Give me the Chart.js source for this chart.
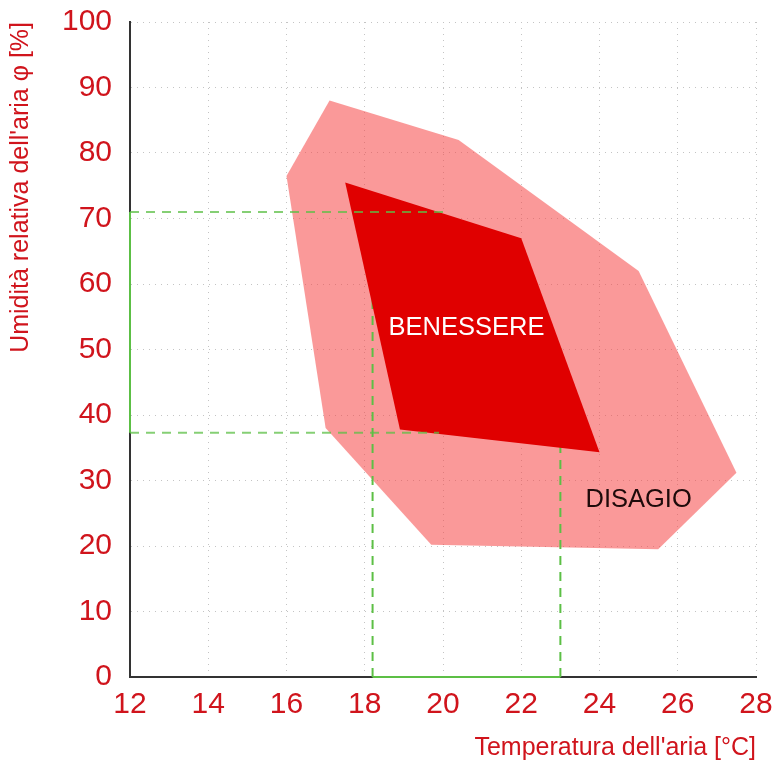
<!DOCTYPE html>
<html lang="it">
<head>
<meta charset="UTF-8">
<title>Benessere termoigrometrico</title>
<script src="https://cdn.jsdelivr.net/npm/chart.js"></script>
<style>
  html, body { margin: 0; padding: 0; background: #fff; }
  #wrap { width: 778px; height: 763px; }
</style>
</head>
<body>
<div id="wrap"><canvas id="chart"></canvas></div>
<script>
// temperature [°C] on x, relative humidity [%] on y
const outerTemp = [17.1, 20.4, 25.0, 27.5, 25.5, 19.7, 17.0, 16.0];
const outerHum  = [88.0, 82.0, 62.0, 31.2, 19.5, 20.2, 38.0, 76.5];
const innerTemp = [17.5, 22.0, 24.0, 18.9];
const innerHum  = [75.5, 67.0, 34.3, 37.8];

// green guide lines
const guideTemp = [18.2, 23.0];
const guideTempTop = [60.0, 50.6];
const guideHum = [71.0, 37.3];
const guideHumEnd = [20.0, 19.9];

const zoneNames = ['BENESSERE', 'DISAGIO'];
const zoneTemp = [20.6, 25.0];
const zoneHum = [53.3, 27.0];

const red = '#d0141c';
const green = '#5cbf45';
const font = "'Liberation Sans', Arial, Helvetica, sans-serif";

const pts = (xs, ys) => xs.map((x, i) => ({x: x, y: ys[i]}));

// higher order = drawn further back
const datasets = [
    { data: pts(outerTemp, outerHum), backgroundColor: 'rgba(246, 70, 70, 0.55)', fill: 'shape', order: 10 },
    { data: pts(innerTemp, innerHum), backgroundColor: '#e00000', fill: 'shape', order: 8 }
];
guideTemp.forEach((t, i) => {
    datasets.push({ data: [{x: t, y: 0}, {x: t, y: guideTempTop[i]}], borderColor: green, borderWidth: 2, borderDash: [9, 7], order: 9 });
});
guideHum.forEach((h, i) => {
    datasets.push({ data: [{x: 12, y: h}, {x: guideHumEnd[i], y: h}], borderColor: 'rgba(92, 191, 69, 0.75)', borderWidth: 2, borderDash: [9, 7], order: 7 });
});
// solid green pieces on the axes
datasets.push({ data: [{x: 12, y: guideHum[1]}, {x: 12, y: guideHum[0]}], borderColor: green, borderWidth: 2, clip: false, order: 6 });
datasets.push({ data: [{x: guideTemp[0], y: 0}, {x: guideTemp[1], y: 0}], borderColor: green, borderWidth: 2, clip: false, order: 6 });

datasets.forEach(d => {
    d.showLine = true;
    d.pointRadius = 0;
    d.pointHoverRadius = 0;
    if (d.borderWidth === undefined) d.borderWidth = 0;
});

const zoneLabelPlugin = {
    id: 'zoneLabels',
    afterDatasetsDraw(chart) {
        const ctx = chart.ctx;
        const xs = chart.scales.x, ys = chart.scales.y;
        ctx.save();
        ctx.font = '25.5px ' + font;
        ctx.textAlign = 'center';
        ctx.textBaseline = 'middle';
        zoneNames.forEach((name, i) => {
            ctx.fillStyle = i === 0 ? '#ffffff' : '#1e0a0a';
            ctx.fillText(name, xs.getPixelForValue(zoneTemp[i]), ys.getPixelForValue(zoneHum[i]));
        });
        ctx.restore();
    }
};

new Chart(document.getElementById('chart'), {
    type: 'scatter',
    data: { datasets: datasets },
    plugins: [zoneLabelPlugin],
    options: {
        responsive: true,
        maintainAspectRatio: false,
        animation: false,
        events: [],
        layout: { padding: { left: 6, right: 22, top: 22, bottom: 0 } },
        plugins: { legend: { display: false }, tooltip: { enabled: false } },
        scales: {
            x: {
                type: 'linear',
                min: 12,
                max: 28,
                ticks: { stepSize: 2, color: red, font: { family: font, size: 30 }, padding: 10 },
                grid: { color: '#c4c4c4', lineWidth: 1, drawTicks: false },
                border: { color: '#333333', width: 2, dash: [1, 5] },
                title: {
                    display: true,
                    text: "Temperatura dell'aria [°C]",
                    align: 'end',
                    color: red,
                    font: { family: font, size: 25 },
                    padding: { top: 2, bottom: 0 }
                },
                afterFit(scale) {
                    scale.height = 86;
                    scale.paddingLeft = 0;
                    scale.paddingRight = 0;
                }
            },
            y: {
                type: 'linear',
                min: 0,
                max: 100,
                ticks: { stepSize: 10, color: red, font: { family: font, size: 30 }, padding: 18 },
                grid: { color: '#c4c4c4', lineWidth: 1, drawTicks: false },
                border: { color: '#333333', width: 2, dash: [1, 5] },
                title: {
                    display: true,
                    text: "Umidità relativa dell'aria φ [%]",
                    align: 'end',
                    color: red,
                    font: { family: font, size: 25 },
                    padding: { top: 0, bottom: 0 }
                },
                afterFit(scale) {
                    scale.width = 124;
                    scale.paddingTop = 0;
                    scale.paddingBottom = 0;
                }
            }
        }
    }
});
</script>
</body>
</html>
